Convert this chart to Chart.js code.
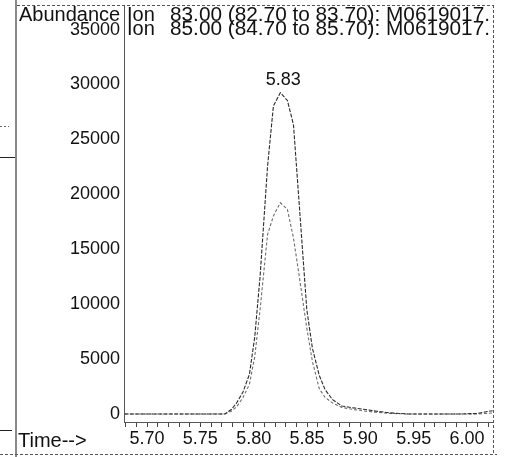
<!DOCTYPE html>
<html>
<head>
<meta charset="utf-8">
<script src="https://cdn.jsdelivr.net/npm/chart.js@4.4.1/dist/chart.umd.min.js"></script>
<style>
  html, body { margin: 0; padding: 0; background: #fff; }
</style>
</head>
<body>
<canvas id="chart" width="505" height="457"></canvas>
<script>
// retention time (min) and abundance
const times = [5.679, 5.700, 5.730, 5.760, 5.773, 5.779, 5.784, 5.790, 5.796, 5.801,
  5.806, 5.813, 5.8185, 5.825, 5.8316, 5.8373, 5.842, 5.8498, 5.855, 5.8615,
  5.867, 5.874, 5.8826, 5.8938, 5.905, 5.915, 5.928, 5.945, 5.970, 5.995,
  6.010, 6.018, 6.024]
const ion83 = [0, 0, 0, 0, 0, 400, 1000, 2000, 3600, 7000,
  12500, 22500, 28000, 29200, 28500, 26300, 20000, 9500, 6000, 3500,
  2200, 1300, 730, 550, 400, 250, 100, 0, 0, 0,
  50, 200, 300]
const ion85 = [0, 0, 0, 0, 0, 250, 650, 1500, 2700, 5200,
  9500, 16300, 18000, 19200, 18600, 16000, 13000, 7800, 4800, 2300,
  1500, 1000, 600, 400, 250, 150, 50, 0, 0, 0,
  0, 50, 100]

const yTicks = [0, 5000, 10000, 15000, 20000, 25000, 30000, 35000]
const xTickLabels = ["5.70", "5.75", "5.80", "5.85", "5.90", "5.95", "6.00"]
const ionLabels = ["83.00 (82.70 to 83.70): M0619017.", "85.00 (84.70 to 85.70): M0619017."]
const peakTime = 5.825
const peakValue = 29200
const peakLabel = "5.83"

// minor ticks every 0.01 min
const minorTicks = []
for (let i = 568; i <= 602; i++) minorTicks.push(i / 100)

const FONT = "'Liberation Sans', Arial, sans-serif"

const decor = {
  id: "decor",
  afterDraw(chart) {
    const ctx = chart.ctx
    const area = chart.chartArea
    const x = chart.scales.x
    const y = chart.scales.y
    ctx.save()

    // grey binding line on the left of the scan
    ctx.strokeStyle = "#8a8a8a"
    ctx.lineWidth = 2
    ctx.beginPath()
    ctx.moveTo(16, 0)
    ctx.lineTo(16, 457)
    ctx.stroke()

    // small marks left of it
    ctx.strokeStyle = "#222"
    ctx.lineWidth = 1
    ctx.beginPath()
    ctx.moveTo(0, 157.5); ctx.lineTo(15, 157.5)
    ctx.moveTo(0, 430.5); ctx.lineTo(12, 430.5)
    ctx.stroke()
    ctx.setLineDash([2, 2])
    ctx.strokeStyle = "#666"
    ctx.beginPath()
    ctx.moveTo(0, 126.5); ctx.lineTo(9, 126.5)
    ctx.stroke()

    // dashed frame
    ctx.setLineDash([3, 2])
    ctx.strokeStyle = "#555"
    ctx.beginPath()
    ctx.moveTo(17, 5.5); ctx.lineTo(area.right + 1, 5.5)
    ctx.moveTo(area.right + 0.5, 5); ctx.lineTo(area.right + 0.5, 454)
    ctx.moveTo(0, 454.5); ctx.lineTo(area.right + 4, 454.5)
    ctx.moveTo(area.left + 0.5, 5); ctx.lineTo(area.left + 0.5, area.top)
    ctx.stroke()
    ctx.setLineDash([])

    const baselines = [21, 35]
    ctx.fillStyle = "#111"
    ctx.textBaseline = "alphabetic"
    ctx.font = "20px " + FONT
    ctx.textAlign = "left"
    ctx.fillText("Abundance", 19, baselines[0])
    ctx.fillText("Time-->", 18, 447)

    // top tick label sits on the second header row
    ctx.font = "18px " + FONT
    ctx.textAlign = "right"
    ctx.fillText(String(yTicks[yTicks.length - 1]), area.left - 4, baselines[1])

    // ion headers, clipped at the right border
    ctx.save()
    ctx.font = "20px " + FONT
    ctx.textAlign = "left"
    ctx.beginPath()
    ctx.rect(area.left, 0, area.right - area.left, 60)
    ctx.clip()
    ionLabels.forEach((txt, i) => {
      ctx.fillText("Ion", 127, baselines[i])
      const w = ctx.measureText(txt).width
      const sx = (area.right - 3 - 170) / w
      ctx.save()
      ctx.translate(170, baselines[i])
      ctx.scale(sx, 1)
      ctx.fillText(txt, 0, 0)
      ctx.restore()
    })
    ctx.restore()

    // peak retention time label
    ctx.font = "18px " + FONT
    ctx.textAlign = "center"
    ctx.textBaseline = "bottom"
    ctx.fillText(peakLabel, x.getPixelForValue(peakTime) + 3, y.getPixelForValue(peakValue) - 4)
    ctx.restore()
  }
}

new Chart(document.getElementById("chart"), {
  type: "line",
  data: {
    datasets: [
      {
        label: "Ion 83.00",
        data: times.map((t, i) => ({ x: t, y: ion83[i] })),
        borderColor: "#2b2b2b",
        borderWidth: 1.1,
        borderDash: [4, 1.5],
        pointRadius: 0,
        tension: 0,
      },
      {
        label: "Ion 85.00",
        data: times.map((t, i) => ({ x: t, y: ion85[i] })),
        borderColor: "#6e6e6e",
        borderWidth: 1.1,
        borderDash: [3, 2],
        pointRadius: 0,
        tension: 0,
      },
    ],
  },
  options: {
    responsive: false,
    animation: false,
    layout: { padding: { top: 8, right: 12, left: 0, bottom: 0 } },
    plugins: { legend: { display: false }, tooltip: { enabled: false } },
    scales: {
      x: {
        type: "linear",
        min: 5.6784,
        max: 6.0244,
        afterFit: (s) => { s.height = 35; s.paddingLeft = 0; s.paddingRight = 0 },
        afterBuildTicks: (s) => { s.ticks = minorTicks.map((v) => ({ value: v })) },
        grid: { drawOnChartArea: false, drawTicks: true, tickLength: 5, color: "#444", lineWidth: 1 },
        border: { display: true, color: "#555", dash: [3, 2] },
        ticks: {
          autoSkip: false,
          maxRotation: 0,
          padding: 1,
          color: "#111",
          font: { family: FONT, size: 18 },
          callback: (v) => {
            const s = Number(v).toFixed(2)
            return xTickLabels.includes(s) ? s : ""
          },
        },
      },
      y: {
        min: -730,
        max: 36900,
        afterFit: (s) => { s.width = 124; s.paddingTop = 0; s.paddingBottom = 0 },
        afterBuildTicks: (s) => { s.ticks = yTicks.map((v) => ({ value: v })) },
        grid: { drawOnChartArea: false, drawTicks: false },
        border: { display: true, color: "#555", dash: [2, 2] },
        ticks: {
          padding: 4,
          color: "#111",
          font: { family: FONT, size: 18 },
          callback: (v) => (v === 35000 ? "" : String(v)),
        },
      },
    },
  },
  plugins: [decor],
})
</script>
</body>
</html>
